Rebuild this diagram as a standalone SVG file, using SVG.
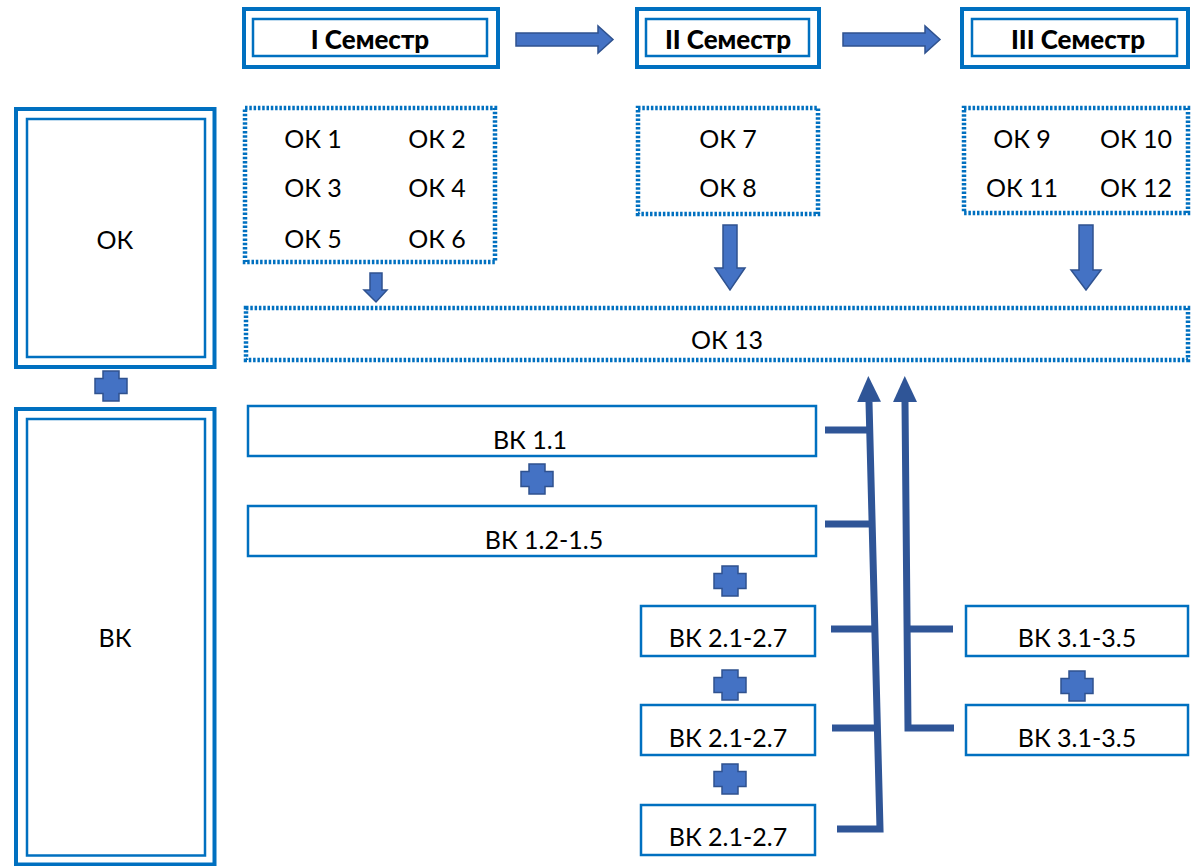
<svg xmlns="http://www.w3.org/2000/svg" width="1191" height="866" viewBox="0 0 1191 866">
<style>
.txt{font-family:Lato,"Liberation Sans",sans-serif;font-size:25px;fill:#000;text-anchor:middle}
.sem{font-family:Lato,"Liberation Sans",sans-serif;font-size:26px;font-weight:900;fill:#000;text-anchor:middle}
.thick{fill:none;stroke:#0070C0;stroke-width:4}
.thin{fill:none;stroke:#0070C0;stroke-width:2.5}
.dot{fill:none;stroke:#0070C0;stroke-width:4.5;stroke-dasharray:2.5 1.8}
.blk{fill:#4472C4;stroke:#2F528F;stroke-width:1.5}
.con{fill:none;stroke:#2F5597;stroke-width:7;stroke-linejoin:miter}
</style>
<defs>
<path id="plus" d="M-8,-15 H8 V-7.5 H16 V7.5 H8 V15 H-8 V7.5 H-16 V-7.5 H-8 Z"/>
<marker id="ah" viewBox="0 0 26 24" refX="0" refY="12" markerWidth="26" markerHeight="24" markerUnits="userSpaceOnUse" orient="auto">
<path d="M0,0 L26,12 L0,24 Z" fill="#2F5597"/>
</marker>
</defs>

<g id="ok-side">
<rect class="thick" x="16" y="109" width="198.5" height="258"/>
<rect class="thin" x="27" y="119" width="178" height="238"/>
<text class="txt" x="115" y="249">ОК</text>
</g>
<g id="vk-side">
<rect class="thick" x="16" y="409" width="198.5" height="455.5"/>
<rect class="thin" x="27" y="419" width="178" height="436.5"/>
<text class="txt" x="115" y="647">ВК</text>
</g>
<g id="plus-side"><use href="#plus" class="blk" x="111" y="386"/></g>

<g id="sem1">
<rect class="thick" x="244" y="9" width="254" height="58"/>
<rect class="thin" x="253" y="19" width="234" height="37"/>
<text class="sem" x="370" y="49">I Семестр</text>
</g>
<g id="sem2">
<rect class="thick" x="637" y="9" width="182" height="58"/>
<rect class="thin" x="646" y="19" width="163" height="37"/>
<text class="sem" x="728" y="49">II Семестр</text>
</g>
<g id="sem3">
<rect class="thick" x="962" y="9" width="226" height="58"/>
<rect class="thin" x="972" y="19" width="205" height="37"/>
<text class="sem" x="1078" y="49">III Семестр</text>
</g>

<g id="arrow-right-1"><path class="blk" d="M516,33 H598 V26 L613,39.5 L598,53 V46 H516 Z"/></g>
<g id="arrow-right-2"><path class="blk" d="M843,33 H925 V26 L940,39.5 L925,53 V46 H843 Z"/></g>

<g id="ok1-6">
<rect class="dot" x="245" y="108" width="250" height="154"/>
<text class="txt" x="313" y="148">ОК 1</text>
<text class="txt" x="437" y="148">ОК 2</text>
<text class="txt" x="313" y="197">ОК 3</text>
<text class="txt" x="437" y="197">ОК 4</text>
<text class="txt" x="313" y="248">ОК 5</text>
<text class="txt" x="437" y="248">ОК 6</text>
</g>
<g id="ok7-8">
<rect class="dot" x="638" y="108" width="180" height="106"/>
<text class="txt" x="728" y="148">ОК 7</text>
<text class="txt" x="728" y="197">ОК 8</text>
</g>
<g id="ok9-12">
<rect class="dot" x="964" y="108" width="224" height="105"/>
<text class="txt" x="1022" y="148">ОК 9</text>
<text class="txt" x="1136" y="148">ОК 10</text>
<text class="txt" x="1022" y="197">ОК 11</text>
<text class="txt" x="1136" y="197">ОК 12</text>
</g>

<g id="arrow-down-1"><path class="blk" d="M370,273 H382 V290 H387 L376,302 L364,290 H370 Z"/></g>
<g id="arrow-down-2"><path class="blk" d="M723,225 H737 V268 H745 L730,290 L715,268 H723 Z"/></g>
<g id="arrow-down-3"><path class="blk" d="M1079,225 H1093 V270 H1101 L1086,290 L1071,270 H1079 Z"/></g>

<g id="ok13">
<rect class="dot" x="246" y="308" width="942" height="52"/>
<text class="txt" x="727" y="349">ОК 13</text>
</g>

<g id="vk1-1">
<rect class="thin" x="248" y="406" width="568" height="50"/>
<text class="txt" x="530" y="449">ВК 1.1</text>
</g>
<g id="vk1-2">
<rect class="thin" x="248" y="506" width="568" height="50"/>
<text class="txt" x="544" y="549">ВК 1.2-1.5</text>
</g>
<g id="vk2-a">
<rect class="thin" x="641" y="606" width="174" height="50"/>
<text class="txt" x="728" y="647">ВК 2.1-2.7</text>
</g>
<g id="vk2-b">
<rect class="thin" x="641" y="705" width="174" height="50"/>
<text class="txt" x="728" y="747">ВК 2.1-2.7</text>
</g>
<g id="vk2-c">
<rect class="thin" x="641" y="805" width="174" height="50"/>
<text class="txt" x="728" y="846">ВК 2.1-2.7</text>
</g>
<g id="vk3-a">
<rect class="thin" x="966" y="606" width="222" height="50"/>
<text class="txt" x="1077" y="647">ВК 3.1-3.5</text>
</g>
<g id="vk3-b">
<rect class="thin" x="966" y="705" width="222" height="50"/>
<text class="txt" x="1077" y="747">ВК 3.1-3.5</text>
</g>

<g id="pluses">
<use href="#plus" class="blk" x="537" y="479"/>
<use href="#plus" class="blk" x="730" y="581"/>
<use href="#plus" class="blk" x="730" y="685"/>
<use href="#plus" class="blk" x="730" y="779"/>
<use href="#plus" class="blk" x="1077" y="686"/>
</g>

<g id="connectors">
<path class="con" d="M837,829 H880 L869,402" marker-end="url(#ah)"/>
<path class="con" d="M954,728 H908 L905,402" marker-end="url(#ah)"/>
<path class="con" d="M825,430 H870"/>
<path class="con" d="M825,524 H872"/>
<path class="con" d="M831,629 H875"/>
<path class="con" d="M832,728 H877"/>
<path class="con" d="M908,629 H953"/>
</g>
</svg>
